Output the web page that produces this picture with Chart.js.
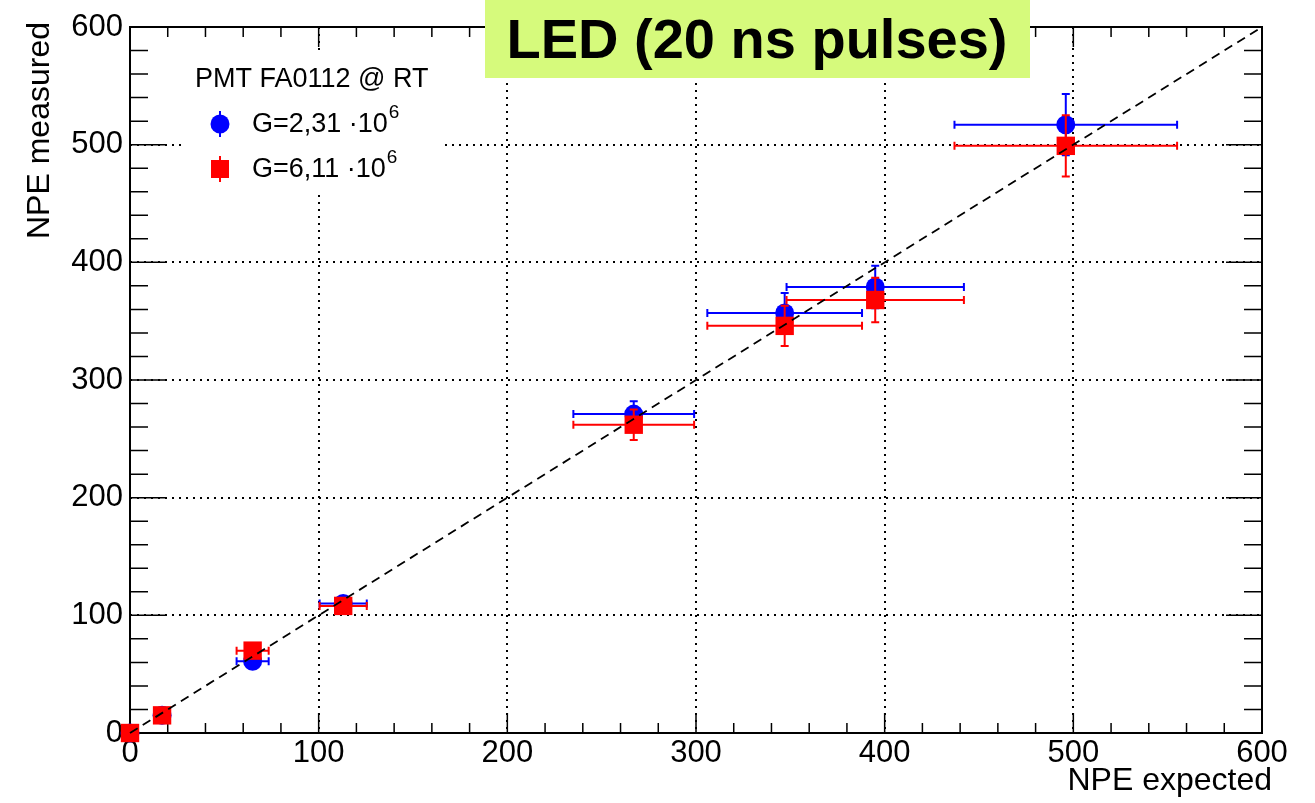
<!DOCTYPE html>
<html>
<head>
<meta charset="utf-8">
<script src="https://cdn.jsdelivr.net/npm/chart.js@4.4.0/dist/chart.umd.min.js"></script>
<style>
    html, body { margin: 0; padding: 0; background: #fff; }
    #wrap { width: 1315px; height: 803px; }
</style>
</head>
<body>
<div id="wrap"><canvas id="chart" width="1315" height="803"></canvas></div>
<script>
// Values
const npeExpected = [0, 17, 65, 113, 267, 347, 395, 496];
const npeExpectedErr = [0, 1.5, 8.5, 12.5, 32, 41, 47, 59];
const measuredG231 = [0, 15, 61, 110, 271, 357, 379, 517];
const measuredG231Err = [0, 1, 3, 5, 11, 17, 18, 26];
const measuredG611 = [0, 15, 70, 108, 262, 346, 368, 499];
const measuredG611Err = [0, 1, 3, 5, 13, 17, 19, 26];
const axisMin = 0;
const axisMax = 600;
const majorStep = 100;
const minorStep = 20;
const diagonal = [0, 600];

const FONT = '"Liberation Sans", Arial, Helvetica, sans-serif';

function makePoints(ys, yErrs) {
    return npeExpected.map((x, i) => ({ x: x, y: ys[i], xErr: npeExpectedErr[i], yErr: yErrs[i] }));
}

const isMajor = v => v % majorStep === 0;

// Error bars, drawn just before each dataset's markers (like ROOT does)
const errorBarPlugin = {
    id: 'errorBars',
    beforeDatasetDraw(chart, args) {
        const ds = chart.data.datasets[args.index];
        if (!ds.errorColor) return;
        const { ctx, scales: { x, y } } = chart;
        const cap = 4;
        ctx.save();
        ctx.strokeStyle = ds.errorColor;
        ctx.lineWidth = 2;
        ds.data.forEach(p => {
            const px = x.getPixelForValue(p.x);
            const py = y.getPixelForValue(p.y);
            ctx.beginPath();
            if (p.xErr > 0) {
                const x1 = x.getPixelForValue(p.x - p.xErr);
                const x2 = x.getPixelForValue(p.x + p.xErr);
                ctx.moveTo(x1, py); ctx.lineTo(x2, py);
                ctx.moveTo(x1, py - cap); ctx.lineTo(x1, py + cap);
                ctx.moveTo(x2, py - cap); ctx.lineTo(x2, py + cap);
            }
            if (p.yErr > 0) {
                const y1 = y.getPixelForValue(p.y - p.yErr);
                const y2 = y.getPixelForValue(p.y + p.yErr);
                ctx.moveTo(px, y1); ctx.lineTo(px, y2);
                ctx.moveTo(px - cap, y1); ctx.lineTo(px + cap, y1);
                ctx.moveTo(px - cap, y2); ctx.lineTo(px + cap, y2);
            }
            ctx.stroke();
        });
        ctx.restore();
    }
};

// Frame with inward ticks on all four sides, plus axis titles
const framePlugin = {
    id: 'frame',
    beforeDatasetsDraw(chart) {
        const { ctx, chartArea: a, scales: { x, y } } = chart;
        ctx.save();
        ctx.strokeStyle = '#000';
        ctx.lineWidth = 2;
        ctx.strokeRect(a.left, a.top, a.right - a.left, a.bottom - a.top);
        ctx.lineWidth = 1.5;
        ctx.beginPath();
        x.ticks.forEach(t => {
            const px = x.getPixelForValue(t.value);
            const len = isMajor(t.value) ? 20 : 10;
            ctx.moveTo(px, a.bottom); ctx.lineTo(px, a.bottom - len);
            ctx.moveTo(px, a.top); ctx.lineTo(px, a.top + len);
        });
        y.ticks.forEach(t => {
            const py = y.getPixelForValue(t.value);
            const len = isMajor(t.value) ? 36 : 18;
            ctx.moveTo(a.left, py); ctx.lineTo(a.left + len, py);
            ctx.moveTo(a.right, py); ctx.lineTo(a.right - len, py);
        });
        ctx.stroke();

        // axis titles
        ctx.fillStyle = '#000';
        ctx.font = '32px ' + FONT;
        ctx.textAlign = 'right';
        ctx.textBaseline = 'alphabetic';
        ctx.fillText('NPE expected', 1272, 790);
        ctx.translate(49, 22);
        ctx.rotate(-Math.PI / 2);
        ctx.fillText('NPE measured', 0, 0);
        ctx.restore();
    }
};

// Legend box and title banner on top of everything
const overlayPlugin = {
    id: 'overlay',
    afterDraw(chart) {
        const ctx = chart.ctx;
        ctx.save();

        // legend
        ctx.fillStyle = '#fff';
        ctx.fillRect(185, 55, 260, 137);
        ctx.fillStyle = '#000';
        ctx.font = '27px ' + FONT;
        ctx.textBaseline = 'alphabetic';
        ctx.textAlign = 'left';
        ctx.fillText('PMT FA0112 @ RT', 195, 87);

        const entries = [
            { y: 124, color: '#0000ff', style: 'circle', text: 'G=2,31 \u00b710' },
            { y: 169, color: '#ff0000', style: 'rect', text: 'G=6,11 \u00b710' }
        ];
        entries.forEach(e => {
            ctx.strokeStyle = e.color;
            ctx.fillStyle = e.color;
            ctx.lineWidth = 2;
            ctx.beginPath();
            ctx.moveTo(220, e.y - 13); ctx.lineTo(220, e.y + 13);
            ctx.stroke();
            if (e.style === 'circle') {
                ctx.beginPath();
                ctx.arc(220, e.y, 9.5, 0, Math.PI * 2);
                ctx.fill();
            } else {
                ctx.fillRect(211, e.y - 9, 18, 18);
            }
            ctx.fillStyle = '#000';
            ctx.font = '27px ' + FONT;
            ctx.fillText(e.text, 252, e.y + 8);
            const w = ctx.measureText(e.text).width;
            ctx.font = '19px ' + FONT;
            ctx.fillText('6', 252 + w + 1, e.y - 6);
        });

        // title banner
        ctx.fillStyle = 'rgb(214, 250, 124)';
        ctx.fillRect(485, 0, 545, 78);
        ctx.fillStyle = '#000';
        ctx.font = 'bold 56px ' + FONT;
        ctx.textAlign = 'center';
        ctx.fillText('LED (20 ns pulses)', 757, 58);
        ctx.restore();
    }
};

const gridColor = ctx => {
    const v = ctx.tick ? ctx.tick.value : null;
    return (v !== null && isMajor(v) && v > axisMin && v < axisMax) ? '#000' : 'rgba(0,0,0,0)';
};

const tickFont = { family: FONT, size: 31 };

new Chart(document.getElementById('chart'), {
    type: 'scatter',
    data: {
        datasets: [
            {
                label: 'y = x',
                data: diagonal.map(v => ({ x: v, y: v })),
                showLine: true,
                borderColor: '#000',
                borderWidth: 1.8,
                borderDash: [9, 6],
                pointRadius: 0,
                order: 0,
                clip: false
            },
            {
                label: 'G=6,11e6',
                data: makePoints(measuredG611, measuredG611Err),
                pointStyle: 'rect',
                pointRadius: 13,
                backgroundColor: '#ff0000',
                borderWidth: 0,
                errorColor: '#ff0000',
                order: 1,
                clip: false
            },
            {
                label: 'G=2,31e6',
                data: makePoints(measuredG231, measuredG231Err),
                pointStyle: 'circle',
                pointRadius: 9.5,
                backgroundColor: '#0000ff',
                borderWidth: 0,
                errorColor: '#0000ff',
                order: 2,
                clip: false
            }
        ]
    },
    options: {
        responsive: false,
        devicePixelRatio: 1,
        animation: false,
        layout: { padding: { top: 27, right: 53, left: 0, bottom: 0 } },
        plugins: {
            legend: { display: false },
            tooltip: { enabled: false }
        },
        scales: {
            x: {
                type: 'linear',
                min: axisMin,
                max: axisMax,
                afterFit: s => { s.height = 70; },
                ticks: {
                    stepSize: minorStep,
                    autoSkip: false,
                    maxRotation: 0,
                    padding: 2,
                    color: '#000',
                    font: tickFont,
                    callback: v => isMajor(v) ? String(v) : ''
                },
                grid: { drawTicks: false, lineWidth: 2, color: gridColor },
                border: { display: false, dash: [2, 5] }
            },
            y: {
                type: 'linear',
                min: axisMin,
                max: axisMax,
                afterFit: s => { s.width = 130; },
                ticks: {
                    stepSize: minorStep,
                    autoSkip: false,
                    padding: 7,
                    color: '#000',
                    font: tickFont,
                    callback: v => isMajor(v) ? String(v) : ''
                },
                grid: { drawTicks: false, lineWidth: 2, color: gridColor },
                border: { display: false, dash: [2, 5] }
            }
        }
    },
    plugins: [errorBarPlugin, framePlugin, overlayPlugin]
});
</script>
</body>
</html>
